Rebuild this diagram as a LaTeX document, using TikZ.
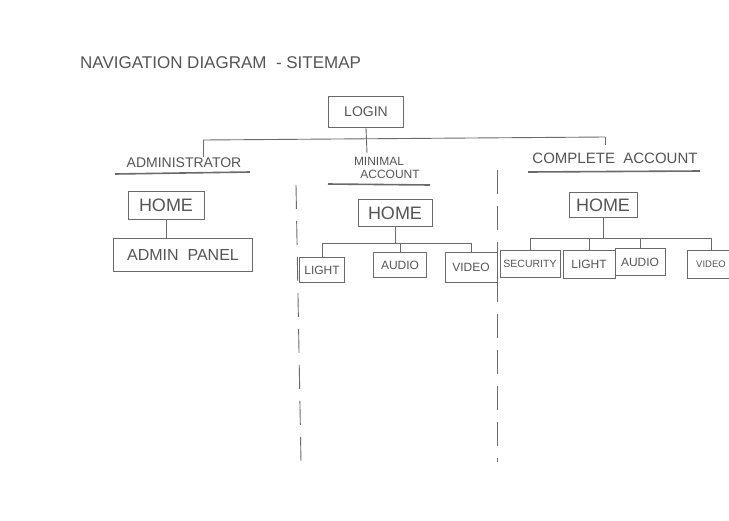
\documentclass[tikz,border=0pt]{standalone}
\usepackage{fontspec}
\setmainfont{Liberation Sans}
\definecolor{pencil}{HTML}{6A6A6A}
\definecolor{pencildark}{HTML}{555555}
\begin{document}
\begin{tikzpicture}[x=1pt,y=-1pt,
  line/.style={draw=pencil,line width=0.9pt},
  box/.style={draw=pencil,line width=0.9pt,inner sep=0pt,text=pencildark,font=\fontsize{11}{11}\selectfont},
  lbl/.style={text=pencildark,inner sep=0pt},
  uline/.style={draw=pencil,line width=1.6pt},
  sep/.style={draw=pencil,line width=0.9pt,dash pattern=on 24pt off 12pt}]
\fill[white] (0,0) rectangle (729,520);
\useasboundingbox (0,0) rectangle (729,520);
\clip (0,0) rectangle (729,520);
% title
\node[lbl,anchor=west,font=\fontsize{17}{17}\selectfont] (title) at (80,63) {NAVIGATION DIAGRAM \ - SITEMAP};
% login
\node[box,minimum width=75,minimum height=31,font=\fontsize{14}{14}\selectfont] (login) at (366,112) {LOGIN};
\coordinate (busL) at (203,140);
\coordinate (busR) at (605,137);
\coordinate (busM) at (367,153);
\coordinate (admTop) at (203,157);
\coordinate (cmpTop) at (605,145);
\draw[line] (busL) -- (busR);
\draw[line] (login.south) -- (busM);
\draw[line] (busL) -- (admTop);
\draw[line] (busR) -- (cmpTop);
% section headings
\node[lbl,font=\fontsize{14}{14}\selectfont] (adm) at (184,163) {ADMINISTRATOR};
\draw[uline] (115,174) -- (250,172);
\node[lbl,font=\fontsize{12}{13}\selectfont,align=center] (minacc) at (379,168) {MINIMAL\\\hspace*{22pt}ACCOUNT};
\draw[uline] (328,184) -- (430,185);
\node[lbl,font=\fontsize{15}{15}\selectfont] (cmpacc) at (615,158) {COMPLETE \ ACCOUNT};
\draw[uline] (528,172) -- (700,171);
% separators
\coordinate (s1a) at (296,185); \coordinate (s1b) at (301,462);
\coordinate (s2a) at (497,170); \coordinate (s2b) at (497,462);
\draw[sep] (s1a) -- (s1b);
\draw[sep] (s2a) -- (s2b);
% administrator branch
\node[box,minimum width=76,minimum height=28,font=\fontsize{18}{18}\selectfont] (ahome) at (166,205) {HOME};
\node[box,minimum width=139,minimum height=33,font=\fontsize{16}{16}\selectfont] (apanel) at (183,255) {ADMIN \ PANEL};
\draw[line] (ahome.south) -- (ahome.south |- apanel.north);
% minimal branch
\node[box,minimum width=74,minimum height=27,font=\fontsize{18}{18}\selectfont] (mhome) at (395,213) {HOME};
\node[box,minimum width=45,minimum height=25,font=\fontsize{12}{12}\selectfont] (mlight) at (322,270) {LIGHT};
\node[box,minimum width=53,minimum height=25,font=\fontsize{12}{12}\selectfont] (maudio) at (400,265) {AUDIO};
\node[box,minimum width=52,minimum height=30,font=\fontsize{12}{12}\selectfont] (mvideo) at (471,267) {VIDEO};
\coordinate (mbus) at (397,243);
\draw[line] (mhome.south) -- (mhome.south |- mbus);
\draw[line] (mbus -| mlight.north) -- (mbus -| mvideo.north);
\draw[line] (mbus -| mlight.north) -- (mlight.north);
\draw[line] (mbus -| maudio.north) -- (maudio.north);
\draw[line] (mbus -| mvideo.north) -- (mvideo.north);
% complete branch
\node[box,minimum width=68,minimum height=25,font=\fontsize{18}{18}\selectfont] (chome) at (603,205) {HOME};
\node[box,minimum width=60,minimum height=27,font=\fontsize{10.5}{10.5}\selectfont] (csec) at (530,264) {SECURITY};
\node[box,minimum width=52,minimum height=28,font=\fontsize{12}{12}\selectfont] (clight) at (589,264) {LIGHT};
\node[box,minimum width=50,minimum height=27,font=\fontsize{12}{12}\selectfont] (caudio) at (640,262) {AUDIO};
\node[box,minimum width=48,minimum height=28,font=\fontsize{9.5}{9.5}\selectfont] (cvideo) at (711,264) {VIDEO};
\coordinate (cbus) at (611,238);
\draw[line] (chome.south) -- (chome.south |- cbus);
\draw[line] (cbus -| csec.north) -- (cbus -| cvideo.north);
\draw[line] (cbus -| csec.north) -- (csec.north);
\draw[line] (cbus -| clight.north) -- (clight.north);
\draw[line] (cbus -| caudio.north) -- (caudio.north);
\draw[line] (cbus -| cvideo.north) -- (cvideo.north);
\end{tikzpicture}
\end{document}
